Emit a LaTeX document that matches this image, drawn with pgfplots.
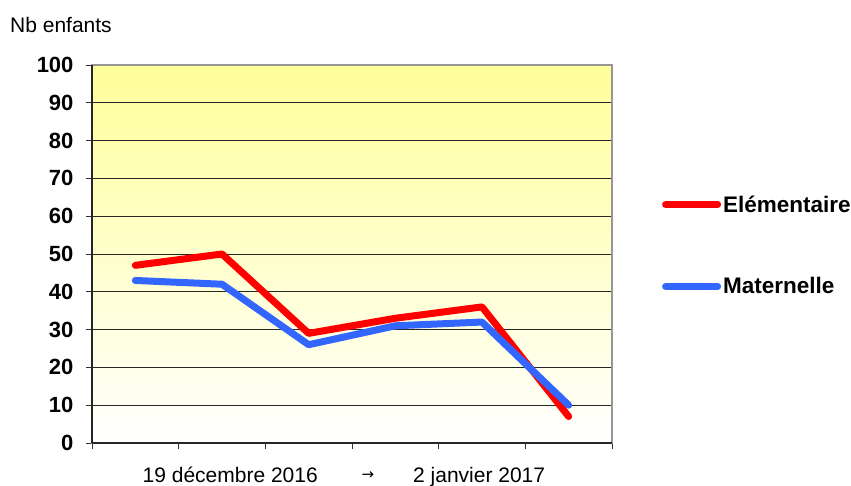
\documentclass[border=0pt]{standalone}
\usepackage{fontspec}
\setmainfont{Liberation Sans}
\newfontfamily\dejavu{DejaVu Sans}
\usepackage{pgfplots}
\pgfplotsset{compat=1.18}
\definecolor{bgtop}{RGB}{255,255,153}
\definecolor{redline}{RGB}{255,0,0}
\definecolor{blueline}{RGB}{51,102,255}
\definecolor{frame}{RGB}{150,150,150}
\begin{document}
\begin{tikzpicture}[x=1pt,y=1pt]
\useasboundingbox (-92,-43) rectangle (759,443);
\begin{axis}[
  at={(0,0)}, anchor=south west,
  scale only axis, width=520pt, height=378pt,
  xmin=0, xmax=6, ymin=0, ymax=100,
  xtick={0,1,2,3,4,5,6}, xticklabels={},
  ytick={0,10,...,100},
  ymajorgrids, grid style={black!85, line width=0.8pt},
  tick align=outside, tick pos=left,
  major tick length=6pt,
  tick style={black!80, line width=0.8pt},
  axis line style={draw=frame, line width=1.2pt},
  yticklabel style={font=\fontsize{22}{26}\selectfont\bfseries, xshift=-9pt},
  /pgf/number format/assume math mode=true,
  axis background/.style={top color=bgtop, bottom color=white},
  clip=false,
  legend style={at={(1.096,0.5225)}, anchor=west, draw=none, fill=none,
    font=\fontsize{22.5}{26}\selectfont\bfseries, row sep=60pt,
    inner sep=0pt, nodes={inner sep=2pt}},
  legend cell align=left,
  legend image code/.code={\draw[#1, line width=7pt, line cap=round] (0pt,0pt) -- (52pt,0pt);},
]
\draw[black!85, line width=1.2pt] (rel axis cs:0,0) -- (rel axis cs:0,1);
\draw[black!85, line width=1.2pt] (rel axis cs:0,0) -- (rel axis cs:1,0);
\addplot[redline, line width=7pt, line cap=round, line join=round] coordinates {
  (0.5,47) (1.5,50) (2.5,29) (3.5,33) (4.5,36) (5.5,7)};
\addlegendentry{Elémentaire}
\addplot[blueline, line width=7pt, line cap=round, line join=round] coordinates {
  (0.5,43) (1.5,42) (2.5,26) (3.5,31) (4.5,32) (5.5,10)};
\addlegendentry{Maternelle}
\end{axis}
\node[anchor=west, font=\fontsize{21}{25}\selectfont, inner sep=0pt] at (-82,418) {Nb enfants};
\node[anchor=base east, font=\fontsize{21}{25}\selectfont, inner sep=0pt] at (226,-40) {19 décembre 2016};
\node[anchor=center, font=\fontsize{15}{17}\selectfont\dejavu, inner sep=0pt] at (276,-33) {→};
\node[anchor=base west, font=\fontsize{21}{25}\selectfont, inner sep=0pt] at (321,-40) {2 janvier 2017};
\end{tikzpicture}
\end{document}
